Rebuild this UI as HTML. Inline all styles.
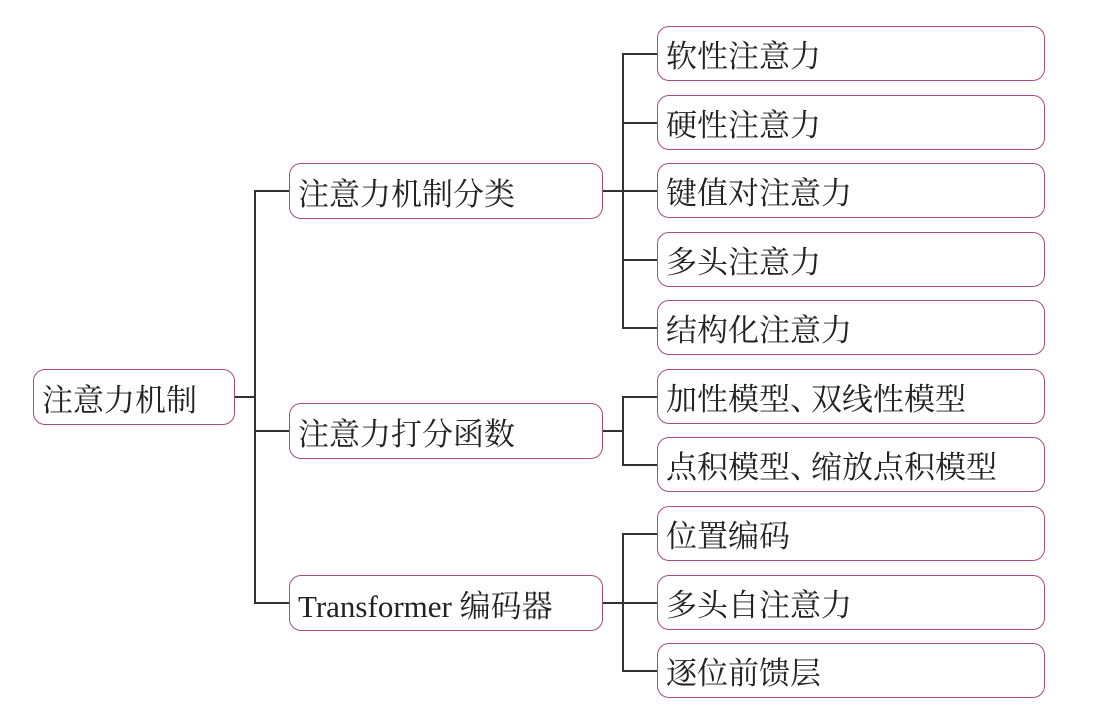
<!DOCTYPE html>
<html><head><meta charset="utf-8"><style>
body{margin:0;width:1106px;height:714px;background:#fff;position:relative;overflow:hidden;font-family:"Liberation Serif","Noto Serif CJK SC",serif;}
.b{position:absolute;box-sizing:border-box;border:1.6px solid #a64c80;border-radius:12px;font-size:31px;color:#222;padding-left:8px;display:flex;align-items:center;white-space:nowrap;}
.l{position:absolute;background:#333;}
</style></head><body>
<div class="b" style="left:33px;top:369px;width:202px;height:56px">注意力机制</div>
<div class="b" style="left:289px;top:163px;width:314px;height:56px">注意力机制分类</div>
<div class="b" style="left:289px;top:403px;width:314px;height:56px">注意力打分函数</div>
<div class="b" style="left:289px;top:575px;width:314px;height:56px">Transformer&nbsp;编码器</div>
<div class="b" style="left:657px;top:26px;width:388px;height:55px">软性注意力</div>
<div class="b" style="left:657px;top:95px;width:388px;height:55px">硬性注意力</div>
<div class="b" style="left:657px;top:163px;width:388px;height:55px">键值对注意力</div>
<div class="b" style="left:657px;top:232px;width:388px;height:55px">多头注意力</div>
<div class="b" style="left:657px;top:300px;width:388px;height:55px">结构化注意力</div>
<div class="b" style="left:657px;top:369px;width:388px;height:55px">加性模型<span style="margin-right:-10px">、</span>双线性模型</div>
<div class="b" style="left:657px;top:437px;width:388px;height:55px">点积模型<span style="margin-right:-10px">、</span>缩放点积模型</div>
<div class="b" style="left:657px;top:506px;width:388px;height:55px">位置编码</div>
<div class="b" style="left:657px;top:575px;width:388px;height:55px">多头自注意力</div>
<div class="b" style="left:657px;top:643px;width:388px;height:55px">逐位前馈层</div>
<div class="l" style="left:235px;top:396px;width:20px;height:1.5px"></div>
<div class="l" style="left:254px;top:190px;width:1.5px;height:413px"></div>
<div class="l" style="left:254px;top:190px;width:35px;height:1.5px"></div>
<div class="l" style="left:254px;top:430px;width:35px;height:1.5px"></div>
<div class="l" style="left:254px;top:602px;width:35px;height:1.5px"></div>
<div class="l" style="left:603px;top:190px;width:20px;height:1.5px"></div>
<div class="l" style="left:622px;top:53px;width:1.5px;height:275px"></div>
<div class="l" style="left:622px;top:53px;width:35px;height:1.5px"></div>
<div class="l" style="left:622px;top:122px;width:35px;height:1.5px"></div>
<div class="l" style="left:622px;top:190px;width:35px;height:1.5px"></div>
<div class="l" style="left:622px;top:259px;width:35px;height:1.5px"></div>
<div class="l" style="left:622px;top:327px;width:35px;height:1.5px"></div>
<div class="l" style="left:603px;top:430px;width:20px;height:1.5px"></div>
<div class="l" style="left:622px;top:396px;width:1.5px;height:69px"></div>
<div class="l" style="left:622px;top:396px;width:35px;height:1.5px"></div>
<div class="l" style="left:622px;top:464px;width:35px;height:1.5px"></div>
<div class="l" style="left:603px;top:602px;width:20px;height:1.5px"></div>
<div class="l" style="left:622px;top:533px;width:1.5px;height:138px"></div>
<div class="l" style="left:622px;top:533px;width:35px;height:1.5px"></div>
<div class="l" style="left:622px;top:602px;width:35px;height:1.5px"></div>
<div class="l" style="left:622px;top:670px;width:35px;height:1.5px"></div>
</body></html>
